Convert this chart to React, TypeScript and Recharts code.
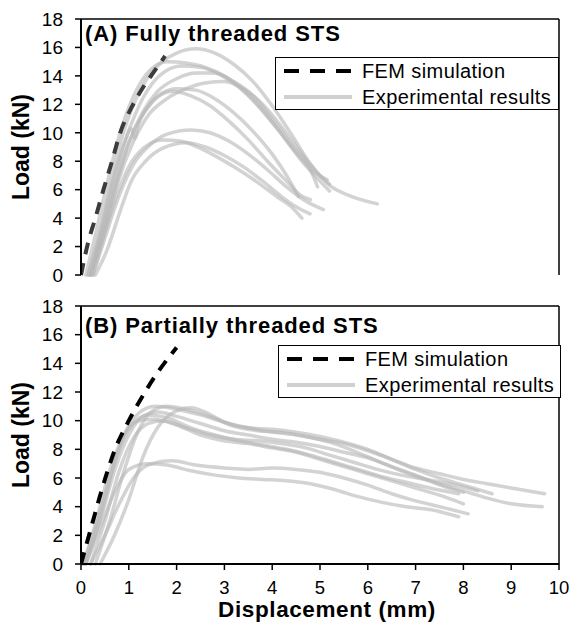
import React from "react";
import { LineChart, Line, XAxis, YAxis, ReferenceLine } from "recharts";

type Pt = [number, number];

// ---------- Panel A: fully threaded STS ----------
const femA: Pt[] = [[0, 0], [0.15, 2.3], [0.3, 4.0], [0.47, 6.0], [0.64, 7.9], [0.82, 10.0], [1.06, 11.8], [1.3, 13.2], [1.55, 14.4], [1.76, 15.4]];

const expA1: Pt[] = [[0.15, 0], [0.35, 2.5], [0.6, 6.2], [0.85, 9.6], [1.1, 12], [1.4, 13.9], [1.7, 15], [2.0, 15.6], [2.4, 15.9], [2.8, 15.6], [3.2, 14.8], [3.6, 13.6], [4.0, 11.9], [4.4, 9.9], [4.8, 7.8], [5.2, 6.3], [5.6, 5.6], [6.2, 5.0]];
const expA2: Pt[] = [[0.1, 0], [0.3, 2.8], [0.55, 6.5], [0.8, 9.8], [1.05, 12.2], [1.3, 13.8], [1.55, 14.7], [1.8, 15.0], [2.2, 14.9], [2.6, 14.6], [3.0, 14.0], [3.4, 13.0], [3.8, 11.6], [4.2, 9.9], [4.6, 8.1], [5.0, 6.6], [5.2, 5.9]];
const expA3: Pt[] = [[0.2, 0], [0.4, 2.5], [0.65, 6], [0.9, 9.2], [1.2, 11.8], [1.5, 13.5], [1.8, 14.4], [2.1, 14.7], [2.5, 14.6], [2.9, 14.1], [3.3, 13.2], [3.7, 11.9], [4.1, 10.3], [4.5, 8.6], [4.9, 7.2], [5.15, 6.7]];
const expA4: Pt[] = [[0.2, 0], [0.45, 2.8], [0.75, 6.5], [1.0, 9.3], [1.3, 11.5], [1.6, 12.9], [2.0, 13.8], [2.4, 14.2], [2.8, 14.2], [3.2, 13.6], [3.6, 12.6], [4.0, 11.0], [4.4, 9.2], [4.8, 7.4], [4.95, 6.2]];
const expA5: Pt[] = [[0.25, 0], [0.5, 3], [0.8, 6.8], [1.1, 9.4], [1.4, 11.2], [1.8, 12.4], [2.2, 13.1], [2.6, 13.5], [3.0, 13.6], [3.4, 13.1], [3.8, 12.0], [4.2, 10.4], [4.6, 8.6], [5.0, 7.0], [5.2, 6.4]];
const expA6: Pt[] = [[0.15, 0], [0.4, 3], [0.65, 6.5], [0.9, 9.2], [1.05, 10.3], [1.12, 9.6], [1.2, 10.6], [1.4, 11.8], [1.7, 12.8], [2.0, 13.1], [2.4, 13.0], [2.8, 12.4], [3.2, 11.4], [3.6, 10.1], [4.0, 8.5], [4.3, 7.0], [4.55, 5.5]];
const expA7: Pt[] = [[0.2, 0], [0.45, 3], [0.75, 6.8], [1.0, 9.3], [1.3, 11.3], [1.6, 12.5], [1.9, 12.9], [2.3, 12.6], [2.7, 11.9], [3.1, 10.8], [3.5, 9.5], [3.9, 8.0], [4.3, 6.6], [4.6, 5.6], [4.8, 5.3]];
const expA8: Pt[] = [[0.25, 0], [0.5, 2.6], [0.8, 5.6], [1.1, 7.8], [1.4, 9.0], [1.8, 9.9], [2.3, 10.2], [2.7, 10.0], [3.1, 9.4], [3.5, 8.5], [3.9, 7.4], [4.3, 6.2], [4.7, 5.2], [5.07, 4.6]];
const expA9: Pt[] = [[0.2, 0], [0.45, 2.5], [0.75, 5.6], [1.0, 7.6], [1.3, 8.9], [1.7, 9.5], [2.1, 9.4], [2.5, 8.9], [2.9, 8.2], [3.3, 7.4], [3.7, 6.5], [4.1, 5.5], [4.4, 4.8], [4.62, 4.0]];
const expA10: Pt[] = [[0.3, 0], [0.55, 1.8], [0.8, 4.3], [1.05, 6.6], [1.35, 8.0], [1.7, 8.9], [2.2, 9.3], [2.6, 9.0], [3.0, 8.4], [3.4, 7.6], [3.8, 6.6], [4.2, 5.5], [4.5, 4.8], [4.79, 4.3]];

// ---------- Panel B: partially threaded STS ----------
const femB: Pt[] = [[0, 0], [0.2, 2.4], [0.5, 5.9], [0.7, 7.9], [1.0, 10.0], [1.25, 11.5], [1.55, 13.1], [2.0, 15.1]];

const expB1: Pt[] = [[0.05, 0], [0.3, 2.5], [0.6, 6], [0.9, 9], [1.2, 10.5], [1.55, 11.0], [2.0, 10.8], [2.5, 10.4], [3, 9.9], [3.5, 9.5], [4, 9.2], [4.5, 9.0], [5, 8.7], [5.5, 8.4], [6, 7.9], [6.5, 7.3], [7, 6.7], [7.5, 6.3], [8, 5.9], [8.5, 5.6], [9, 5.3], [9.7, 4.9]];
const expB2: Pt[] = [[0.4, 0], [0.7, 2], [1.0, 4.5], [1.3, 7.5], [1.6, 9.5], [1.9, 10.5], [2.3, 10.9], [2.6, 10.6], [3, 9.9], [3.5, 9.5], [4, 9.4], [4.5, 9.2], [5, 8.9], [5.5, 8.5], [6, 8.0], [6.5, 7.3], [7, 6.6], [7.5, 6.0], [8, 5.5], [8.6, 4.9]];
const expB3: Pt[] = [[0.1, 0], [0.4, 3], [0.7, 6.5], [1.0, 9], [1.3, 10.3], [1.6, 10.6], [2.0, 10.3], [2.5, 9.8], [3, 9.3], [3.5, 9.0], [4, 8.7], [4.5, 8.5], [5, 8.2], [5.5, 7.8], [6, 7.4], [6.5, 6.8], [7, 6.2], [7.5, 5.6], [8, 5.1], [8.5, 4.6], [9, 4.2], [9.65, 4.0]];
const expB4: Pt[] = [[0.05, 0], [0.3, 2.8], [0.6, 6.5], [0.9, 9.0], [1.2, 10.0], [1.5, 10.1], [2, 9.7], [2.5, 9.0], [3, 8.6], [3.5, 8.4], [4, 8.1], [4.5, 7.8], [5, 7.3], [5.5, 6.8], [6, 6.3], [6.5, 5.8], [7, 5.3], [7.5, 4.8], [8, 4.2]];
const expB5: Pt[] = [[0.2, 0], [0.5, 3], [0.8, 6.5], [1.1, 8.8], [1.4, 9.8], [1.7, 10.0], [2.2, 9.5], [2.7, 9.0], [3.2, 8.7], [3.7, 8.6], [4.2, 8.4], [4.7, 8.1], [5.2, 7.6], [5.7, 7.1], [6.2, 6.6], [6.7, 6.2], [7.2, 5.9], [7.7, 5.6], [8.3, 5.1]];
const expB6: Pt[] = [[0.1, 0], [0.4, 3.2], [0.7, 7], [1.0, 9.4], [1.4, 10.4], [1.8, 10.2], [2.3, 9.5], [2.8, 9.0], [3.3, 8.6], [3.8, 8.3], [4.3, 8.0], [4.8, 7.6], [5.3, 7.1], [5.8, 6.6], [6.3, 6.1], [6.8, 5.7], [7.3, 5.3], [7.9, 4.9]];
const expB7: Pt[] = [[0.2, 0], [0.5, 2], [0.8, 4.2], [1.1, 6.0], [1.4, 6.9], [1.9, 7.2], [2.4, 6.9], [3, 6.7], [3.5, 6.6], [4, 6.7], [4.5, 6.6], [5, 6.4], [5.5, 6.0], [6, 5.5], [6.5, 4.9], [7, 4.4], [7.5, 4.0], [8.1, 3.5]];
const expB8: Pt[] = [[0.1, 0], [0.4, 2.5], [0.7, 5], [1.0, 6.6], [1.4, 7.0], [1.8, 6.9], [2.3, 6.5], [2.8, 6.2], [3.3, 6.0], [3.8, 5.9], [4.3, 5.8], [4.8, 5.6], [5.3, 5.2], [5.8, 4.7], [6.3, 4.3], [6.8, 4.0], [7.3, 3.8], [7.9, 3.3]];
const expB9: Pt[] = [[0.3, 0], [0.6, 3.0], [0.9, 6.5], [1.2, 9.3], [1.5, 10.7], [1.8, 11.0], [2.2, 10.8], [2.7, 10.3], [3.2, 9.6], [3.7, 9.3], [4.2, 9.2], [4.7, 8.9], [5.2, 8.5], [5.7, 7.9], [6.2, 7.2], [6.7, 6.5], [7.2, 5.9], [7.6, 5.4], [8.0, 5.0]];

const yTicks = [0, 2, 4, 6, 8, 10, 12, 14, 16, 18];
const xTicks = [0, 1, 2, 3, 4, 5, 6, 7, 8, 9, 10];

const titleA = "(A) Fully threaded STS";
const titleB = "(B) Partially threaded STS";
const legendFem = "FEM simulation";
const legendExp = "Experimental results";
const yLabel = "Load (kN)";
const xLabel = "Displacement (mm)";

const FONT = "'Liberation Sans', Arial, Helvetica, sans-serif";
const EXP_COLOR = "#b8b8b8";

const toRows = (pts: Pt[]) => pts.map(([x, y]) => ({ x, y }));

const expA = [expA1, expA2, expA3, expA4, expA5, expA6, expA7, expA8, expA9, expA10];
const expB = [expB1, expB2, expB3, expB4, expB5, expB6, expB7, expB8, expB9];

function LegendBox({ left, top, width, height }: { left: number; top: number; width: number; height: number }) {
  return (
    <div
      style={{
        position: "absolute",
        left,
        top,
        width,
        height,
        boxSizing: "border-box",
        border: "1.5px solid #000",
        background: "#fff",
        fontFamily: FONT,
        fontSize: 20,
        letterSpacing: 0.4,
        color: "#000",
      }}
    >
      <div style={{ position: "absolute", left: 6, top: 0, height: 26, display: "flex", alignItems: "center" }}>
        <svg width={72} height={10}>
          <line x1={2} y1={5} x2={70} y2={5} stroke="#000" strokeWidth={4} strokeDasharray="15 11" />
        </svg>
        <span style={{ marginLeft: 8, lineHeight: "26px" }}>{legendFem}</span>
      </div>
      <div style={{ position: "absolute", left: 6, top: 26, height: 26, display: "flex", alignItems: "center" }}>
        <svg width={72} height={10}>
          <line x1={2} y1={5} x2={70} y2={5} stroke="#cfcfcf" strokeWidth={4} />
        </svg>
        <span style={{ marginLeft: 8, lineHeight: "26px" }}>{legendExp}</span>
      </div>
    </div>
  );
}

function Panel({ fem, exps, femColor, showX }: { fem: Pt[]; exps: Pt[][]; femColor: string; showX: boolean }) {
  const height = showX ? 338 : 290;
  return (
    <LineChart
      width={573}
      height={height}
      margin={{ top: 19, right: 14, bottom: showX ? 21 : 15, left: 0 }}
    >
      <XAxis
        type="number"
        dataKey="x"
        domain={[0, 10]}
        ticks={xTicks}
        interval={0}
        allowDataOverflow
        height={showX ? 40 : 0}
        tick={showX ? { fontSize: 18.5, fill: "#000", fontFamily: FONT } : false}
        tickLine={showX ? { stroke: "#000", strokeWidth: 1.5 } : false}
        tickSize={6}
        tickMargin={11}
        axisLine={{ stroke: "#000", strokeWidth: 2 }}
      />
      <YAxis
        type="number"
        domain={[0, 18]}
        ticks={yTicks}
        interval={0}
        width={81}
        tick={{ fontSize: 19, fill: "#000", fontFamily: FONT }}
        tickLine={{ stroke: "#000", strokeWidth: 1.5 }}
        tickSize={6}
        tickMargin={12}
        axisLine={{ stroke: "#000", strokeWidth: 2 }}
      />
      <ReferenceLine y={18} stroke="#000" strokeWidth={1.5} />
      <ReferenceLine x={10} stroke="#000" strokeWidth={1.5} />
      {exps.map((s, i) => (
        <Line
          key={i}
          data={toRows(s)}
          dataKey="y"
          type="monotone"
          stroke={EXP_COLOR}
          strokeOpacity={0.62}
          strokeWidth={3.5}
          dot={false}
          activeDot={false}
          isAnimationActive={false}
          strokeLinecap="round"
        />
      ))}
      <Line
        data={toRows(fem)}
        dataKey="y"
        type="monotone"
        stroke={femColor}
        strokeWidth={4}
        strokeDasharray="12 9"
        dot={false}
        activeDot={false}
        isAnimationActive={false}
      />
    </LineChart>
  );
}

const titleStyle: React.CSSProperties = {
  position: "absolute",
  fontFamily: FONT,
  fontWeight: "bold",
  fontSize: 22,
  letterSpacing: 0.9,
  color: "#000",
  whiteSpace: "nowrap",
  lineHeight: "26px",
};

const yLabelStyle = (cy: number): React.CSSProperties => ({
  position: "absolute",
  left: 21,
  top: cy,
  transform: "translate(-50%, -50%) rotate(-90deg)",
  fontFamily: FONT,
  fontWeight: "bold",
  fontSize: 23,
  color: "#000",
  whiteSpace: "nowrap",
  lineHeight: "24px",
});

export default function App() {
  return (
    <div style={{ position: "absolute", left: 0, top: 0, width: 573, height: 625, background: "#fff", overflow: "hidden" }}>
      <div style={{ position: "absolute", left: 0, top: 0 }}>
        <Panel fem={femA} exps={expA} femColor="#3c3c3c" showX={false} />
      </div>
      <div style={{ position: "absolute", left: 0, top: 287 }}>
        <Panel fem={femB} exps={expB} femColor="#000" showX={true} />
      </div>
      <div style={{ ...titleStyle, left: 85, top: 21 }}>{titleA}</div>
      <div style={{ ...titleStyle, left: 85, top: 313 }}>{titleB}</div>
      <LegendBox left={275} top={57} width={284} height={53} />
      <LegendBox left={278} top={345} width={283} height={53} />
      <div style={yLabelStyle(147)}>{yLabel}</div>
      <div style={yLabelStyle(435)}>{yLabel}</div>
      <div
        style={{
          position: "absolute",
          left: 327,
          top: 610,
          transform: "translate(-50%, -50%)",
          fontFamily: FONT,
          fontWeight: "bold",
          fontSize: 22.5,
          letterSpacing: 0.6,
          color: "#000",
          whiteSpace: "nowrap",
          lineHeight: "18px",
        }}
      >
        {xLabel}
      </div>
    </div>
  );
}
